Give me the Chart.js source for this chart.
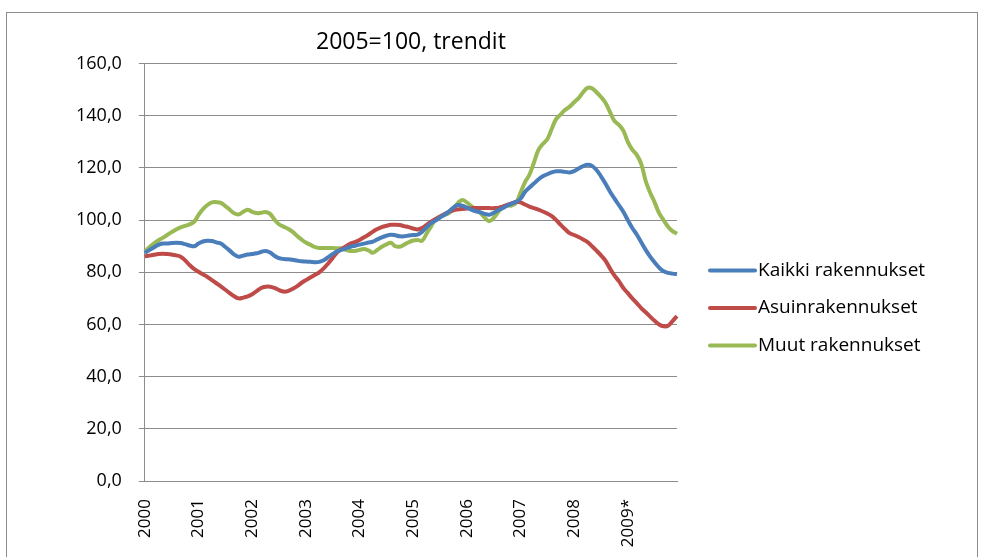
<!DOCTYPE html>
<html lang="fi">
<head>
<meta charset="UTF-8">
<title>Rakennuskustannukset</title>
<script src="https://cdn.jsdelivr.net/npm/chart.js"></script>
<style>
  body { margin: 0; background: #fff; overflow: hidden; }
  #frame {
    position: absolute; left: 6px; top: 12px;
    width: 970px; height: 590px;
    border: 1px solid #8c8c8c; background: #fff;
  }
</style>
</head>
<body>
<div id="frame"><canvas id="chart"></canvas></div>
<script>
// vuodet (kuukausittainen sarja, nimi vain tammikuussa)
const years = ['2000', '2001', '2002', '2003', '2004', '2005', '2006', '2007', '2008', '2009*'];

// Kaikki rakennukset
const kaikki = [
  87.5, 88.5, 89.5, 90.5, 91.0, 91.0, 91.2, 91.3, 91.2, 90.8, 90.3, 90.0,
  91.0, 91.8, 92.1, 92.0, 91.5, 91.0, 89.7, 88.3, 86.8, 86.0, 86.4, 86.8,
  87.0, 87.3, 87.8, 88.2, 87.6, 86.3, 85.4, 85.1, 85.0, 84.8, 84.5, 84.2,
  84.1, 84.0, 83.9, 84.0, 84.6, 85.8, 87.0, 88.0, 88.6, 89.2, 89.8, 90.2,
  90.6, 91.0, 91.4, 91.8, 92.6, 93.4, 94.0, 94.4, 94.2, 93.8, 93.8, 94.1,
  94.3, 94.4, 95.5, 97.2, 98.8, 99.8, 101.0, 102.0, 103.3, 104.8, 105.8, 105.5,
  104.8, 104.0, 103.4, 103.0, 102.4, 102.1, 102.8, 103.8, 104.6, 105.5, 106.3, 107.0,
  108.2, 110.8, 112.5, 114.0, 115.6, 116.8, 117.6, 118.3, 118.7, 118.7, 118.5, 118.3,
  118.8, 119.8, 120.7, 121.2, 120.8, 119.2, 116.8, 114.0, 111.0, 108.3, 105.8, 103.2,
  100.0, 97.0, 94.5, 91.5, 88.6, 86.0, 83.8, 81.8, 80.4, 79.8, 79.5, 79.3
];

// Asuinrakennukset
const asuin = [
  86.1, 86.4, 86.7, 87.0, 87.1, 87.0, 86.8, 86.5, 86.0, 84.6, 82.8, 81.3,
  80.2, 79.2, 78.2, 77.0, 75.8, 74.6, 73.3, 72.0, 70.8, 70.0, 70.3, 70.8,
  71.6, 72.8, 74.0, 74.5, 74.5, 74.0, 73.2, 72.6, 72.8, 73.6, 74.6, 75.9,
  77.0, 78.0, 79.0, 80.0, 81.5, 83.4, 85.5, 87.6, 89.0, 90.0, 91.0, 91.6,
  92.4, 93.4, 94.4, 95.6, 96.6, 97.3, 97.8, 98.2, 98.2, 98.1, 97.7, 97.3,
  96.8, 96.4, 97.0, 98.2, 99.4, 100.4, 101.4, 102.3, 103.2, 103.8, 104.1, 104.3,
  104.5, 104.6, 104.6, 104.6, 104.6, 104.6, 104.6, 104.7, 105.2, 105.8, 106.4, 107.0,
  106.8, 106.0, 105.2, 104.6, 104.0, 103.3, 102.5, 101.5, 100.0, 98.2, 96.5, 95.0,
  94.3, 93.5, 92.6, 91.6, 90.0, 88.3, 86.5, 84.5, 81.5, 78.8, 76.6, 74.0,
  72.0, 70.0, 68.2, 66.3, 64.7, 63.0, 61.4, 60.0, 59.3, 59.5, 61.3, 63.2
];

// Muut rakennukset
const muut = [
  87.9, 89.6, 91.0, 92.2, 93.2, 94.3, 95.4, 96.4, 97.2, 97.8, 98.4, 99.3,
  102.0, 104.2, 105.8, 106.8, 106.9, 106.6, 105.4, 104.0, 102.6, 102.2, 103.2, 104.0,
  103.2, 102.7, 102.8, 103.1, 102.4, 100.2, 98.4, 97.5, 96.7, 95.6, 94.0, 92.6,
  91.4, 90.6, 89.7, 89.3, 89.3, 89.3, 89.3, 89.2, 89.1, 88.6, 88.2, 88.2,
  88.6, 88.9, 88.4, 87.5, 88.6, 89.8, 90.7, 91.3, 90.0, 89.8, 90.6, 91.5,
  92.2, 92.4, 92.1, 94.8, 97.6, 100.3, 101.2, 102.0, 102.7, 104.5, 106.5, 107.7,
  106.8, 105.4, 104.2, 102.8, 101.0, 99.6, 100.8, 103.0, 105.0, 105.6, 105.6, 106.5,
  110.5, 114.5, 117.4, 122.0, 126.8, 129.2, 131.0, 135.0, 138.8, 140.5, 142.3, 143.5,
  145.2, 146.8, 149.0, 150.7, 150.5, 149.0, 147.2, 145.0, 141.5, 138.0, 136.5, 134.3,
  130.0, 127.0, 125.0, 121.6, 115.0, 110.5, 106.8, 102.7, 100.0, 97.5, 95.8, 94.8
];

// kuukausittaiset kategoriat: vuosiluku tammikuulle, muut tyhjiä
const labels = [];
years.forEach(function (y) {
  for (let m = 0; m < 12; m++) labels.push(m === 0 ? y : '');
});

const gray = '#8c8c8c';
const font = 'Open Sans';

function series(label, data, color) {
  return {
    label: label,
    data: data,
    borderColor: color,
    backgroundColor: color,
    borderWidth: 4,
    pointRadius: 0,
    tension: 0.4,
    fill: false
  };
}

// selite oikealle: Chart.js:n oma selite jää liian kapeaksi tässä asettelussa
const sideLegend = {
  id: 'sideLegend',
  afterDraw: function (chart) {
    const c = chart.ctx;
    const x = chart.chartArea.right + 33;
    const mid = 295;
    const step = 37.5;
    const sets = chart.data.datasets;
    c.save();
    c.font = '19px "' + font + '"';
    c.textBaseline = 'middle';
    c.fillStyle = '#000';
    sets.forEach(function (ds, i) {
      const y = mid + (i - (sets.length - 1) / 2) * step;
      c.strokeStyle = ds.borderColor;
      c.lineWidth = 4;
      c.lineCap = 'round';
      c.beginPath();
      c.moveTo(x, y);
      c.lineTo(x + 45, y);
      c.stroke();
      c.fillText(ds.label, x + 48, y);
    });
    c.restore();
  }
};

const ctx = document.getElementById('chart').getContext('2d');
new Chart(ctx, {
  type: 'line',
  data: {
    labels: labels,
    datasets: [
      series('Kaikki rakennukset', kaikki, '#4a7ebb'),
      series('Asuinrakennukset', asuin, '#be4b48'),
      series('Muut rakennukset', muut, '#98b954')
    ]
  },
  plugins: [sideLegend],
  options: {
    responsive: true,
    maintainAspectRatio: false,
    animation: false,
    layout: { padding: { left: 52, right: 300, top: 16, bottom: 20 } },
    plugins: {
      title: {
        display: true,
        text: '2005=100, trendit',
        color: '#000',
        fullSize: false,
        font: { family: font, size: 23, weight: 'normal' },
        padding: { top: 0, bottom: 7 }
      },
      legend: { display: false },
      tooltip: { enabled: false }
    },
    scales: {
      x: {
        offset: false,
        grid: { display: false },
        border: { display: true, color: gray, width: 1 },
        afterFit: function (s) { s.height = 102; },
        ticks: {
          autoSkip: false,
          minRotation: 90,
          maxRotation: 90,
          padding: 10,
          color: '#000',
          font: { family: font, size: 17 }
        }
      },
      y: {
        min: 0,
        max: 160,
        grid: { color: gray, lineWidth: 1, tickLength: 6 },
        border: { display: true, color: gray, width: 1 },
        ticks: {
          stepSize: 20,
          padding: 17,
          color: '#000',
          font: { family: font, size: 18 },
          callback: function (v) { return v.toFixed(1).replace('.', ','); }
        }
      }
    }
  }
});
</script>
</body>
</html>
